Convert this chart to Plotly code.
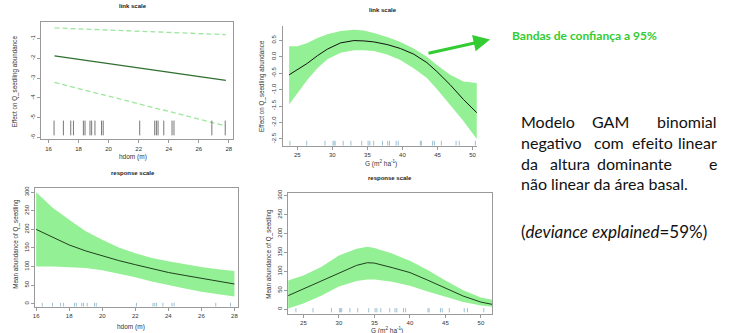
import plotly.graph_objects as go

W, H = 731, 333

# ---------------- data ----------------
# Top-left: link scale, linear effect of hdom
hdom_line_x = [16.4, 22.0, 27.8]
hdom_link_fit = [-1.87, -2.48, -3.12]
hdom_link_upper = [-0.46, -0.63, -0.80]
hdom_link_lower = [-3.22, -4.30, -5.42]
hdom_rug = [16.37, 16.99, 17.48, 17.66, 18.32, 18.43, 18.76, 18.87, 19.09, 19.53,
            19.64, 22.07, 23.07, 23.18, 23.29, 23.67, 24.22, 24.35, 26.87, 27.76]

# Top-right: link scale, smooth of G
G_link_x = [23.84, 25.03, 26.45, 27.87, 29.29, 31.18, 33.07, 34.49, 35.91, 37.81,
            39.70, 41.59, 43.49, 44.91, 46.80, 48.70, 50.60]
G_link_fit = [-0.55, -0.40, -0.20, 0.03, 0.23, 0.42, 0.49, 0.48, 0.45, 0.37,
              0.25, 0.08, -0.18, -0.45, -0.85, -1.30, -1.70]
G_link_upper = [0.32, 0.32, 0.42, 0.57, 0.68, 0.78, 0.82, 0.80, 0.72, 0.60,
                0.45, 0.25, 0.00, -0.25, -0.55, -0.75, -0.80]
G_link_lower = [-1.45, -1.10, -0.70, -0.35, -0.08, 0.12, 0.20, 0.20, 0.17, 0.07,
                -0.10, -0.35, -0.65, -0.98, -1.45, -1.95, -2.50]
G_rug = [23.95, 26.35, 28.95, 30.10, 30.25, 30.40, 31.55, 32.65, 34.20, 35.10,
         35.35, 35.90, 37.15, 37.90, 38.15, 39.10, 39.40, 42.55, 42.70, 44.30,
         44.55, 45.55, 47.65, 48.10, 50.40]

# Bottom-left: response scale, hdom
hdom_resp_x = [16, 17, 18, 19, 20, 21, 22, 23, 24, 25, 26, 27, 28]
hdom_resp_fit = [200, 178, 158, 142, 128, 116, 105, 94, 84, 76, 69, 60, 53]
hdom_resp_upper = [300, 258, 226, 195, 172, 151, 136, 123, 114, 106, 99, 93, 88]
hdom_resp_lower = [100, 100, 99, 96, 90, 81, 71, 60, 50, 41, 32, 25, 19]

# Bottom-right: response scale, G
G_resp_x = [22.85, 25.0, 27.5, 30.0, 32.5, 34.0, 35.0, 37.5, 40.0, 42.5, 45.0, 47.5, 50.0, 51.6]
G_resp_fit = [36, 54, 75, 97, 116, 123, 122, 110, 97, 77, 56, 35, 19, 13]
G_resp_upper = [76, 89, 112, 142, 160, 165, 162, 147, 128, 104, 76, 50, 31, 25]
G_resp_lower = [2, 15, 36, 60, 75, 79, 79, 73, 62, 47, 32, 19, 10, 7]

# tick labels
tl_x_hdom = [16, 18, 20, 22, 24, 26, 28]
tl_y_link_hdom = [-1, -2, -3, -4, -5, -6]
tl_y_link_hdom_txt = ["-1", "-2", "-3", "-4", "-5", "-6"]
tl_x_G = [25, 30, 35, 40, 45, 50]
tl_y_link_G = [0.5, 0.0, -0.5, -1.0, -1.5, -2.0, -2.5]
tl_y_link_G_txt = ["0.5", "0.0", "-0.5", "-1.0", "-1.5", "-2.0", "-2.5"]
tl_y_resp = [0, 50, 100, 150, 200, 250, 300]

# ---------------- style ----------------
BAND = "#94F094"
AXC = "#9a9a9a"
TXT = "#333333"
RF = "Liberation Sans, Arial, sans-serif"
GREEN = "#33CC33"


def px_x(v):
    return v / W


def px_y(v):
    return 1 - v / H


fig = go.Figure()


def band(x, lo, up, xa, ya):
    fig.add_trace(go.Scatter(x=list(x) + list(x)[::-1], y=list(up) + list(lo)[::-1],
                             fill="toself", fillcolor=BAND, line=dict(width=0),
                             mode="lines", xaxis=xa, yaxis=ya, hoverinfo="skip",
                             showlegend=False))


def line(x, y, xa, ya, color="black", width=1, dash=None):
    fig.add_trace(go.Scatter(x=x, y=y, mode="lines", xaxis=xa, yaxis=ya,
                             line=dict(color=color, width=width, dash=dash),
                             showlegend=False, hoverinfo="skip"))


# A: top-left
line(hdom_line_x, hdom_link_upper, "x", "y", color="#9ee69e", width=1.3, dash="5px,3px")
line(hdom_line_x, hdom_link_lower, "x", "y", color="#9ee69e", width=1.3, dash="5px,3px")
line(hdom_line_x, hdom_link_fit, "x", "y", color="#2f6f2f", width=1.3)
# B: top-right
band(G_link_x, G_link_lower, G_link_upper, "x2", "y2")
line(G_link_x, G_link_fit, "x2", "y2", color="#111111", width=1)
# C: bottom-left
band(hdom_resp_x, hdom_resp_lower, hdom_resp_upper, "x3", "y3")
line(hdom_resp_x, hdom_resp_fit, "x3", "y3", color="#1f3f1f", width=1)
# D: bottom-right
band(G_resp_x, G_resp_lower, G_resp_upper, "x4", "y4")
line(G_resp_x, G_resp_fit, "x4", "y4", color="#1f3f1f", width=1)


def axis(domain, rng, tickvals, ticktext=None, mirror=True, anchor=None, yaxis=False):
    d = dict(domain=domain, range=rng, tickvals=tickvals,
             ticktext=ticktext if ticktext is not None else [str(t) for t in tickvals],
             showline=True, linecolor=AXC, linewidth=1, mirror=mirror,
             ticks="outside", ticklen=3, tickcolor=AXC, tickwidth=1,
             showgrid=False, zeroline=False, fixedrange=True, anchor=anchor,
             tickfont=dict(family=RF, size=6, color=TXT))
    if yaxis:
        d["tickangle"] = -90
    return d


fig.update_layout(
    width=W, height=H, margin=dict(l=0, r=0, t=0, b=0),
    paper_bgcolor="white", plot_bgcolor="rgba(0,0,0,0)", showlegend=False,
    xaxis=axis([px_x(39.3), px_x(232.3)], [15.51, 28.3], tl_x_hdom, anchor="y"),
    yaxis=axis([px_y(137), px_y(18.3)], [-6.1, -0.165], tl_y_link_hdom, tl_y_link_hdom_txt,
               anchor="x", yaxis=True),
    xaxis2=axis([px_x(281.7), px_x(477)], [22.9, 50.64], tl_x_G, mirror=False, anchor="y2"),
    yaxis2=axis([px_y(143.3), px_y(22.7)], [-2.7, 0.92], tl_y_link_G, tl_y_link_G_txt,
                mirror=False, anchor="x2", yaxis=True),
    xaxis3=axis([px_x(33.3), px_x(236.7)], [15.94, 28.2], tl_x_hdom, anchor="y3"),
    yaxis3=axis([px_y(306.7), px_y(186)], [-9, 312], tl_y_resp, anchor="x3", yaxis=True),
    xaxis4=axis([px_x(287.3), px_x(492.3)], [22.85, 51.6], tl_x_G, anchor="y4"),
    yaxis4=axis([px_y(313.3), px_y(191.7)], [-11.2, 306], tl_y_resp, anchor="x4", yaxis=True),
)

# rug ticks (x from data, y in axis-domain fractions)
shapes = []
for v in hdom_rug:
    shapes.append(dict(type="line", xref="x", yref="y domain", x0=v, x1=v, y0=0.034, y1=0.16,
                       line=dict(color="#777777", width=1)))
for v in G_rug:
    shapes.append(dict(type="line", xref="x2", yref="y2 domain", x0=v, x1=v, y0=0.0, y1=0.04,
                       line=dict(color="#9cc0d4", width=1)))
for v in hdom_rug:
    shapes.append(dict(type="line", xref="x3", yref="y3 domain", x0=v, x1=v, y0=0.005, y1=0.035,
                       line=dict(color="#9cc0d4", width=1)))
for v in G_rug:
    shapes.append(dict(type="line", xref="x4", yref="y4 domain", x0=v, x1=v, y0=0.01, y1=0.045,
                       line=dict(color="#9cc0d4", width=1)))
fig.update_layout(shapes=shapes)

ann = []


def T(text, x, y, size=6, family=RF, color=TXT, angle=0, xanchor="center", bold=False):
    if bold:
        text = "<b>" + text + "</b>"
    ann.append(dict(text=text, x=px_x(x), y=px_y(y), xref="paper", yref="paper",
                    showarrow=False, xanchor=xanchor, yanchor="middle", textangle=angle,
                    font=dict(family=family, size=size, color=color)))


# panel titles
T("link scale", 132, 2, size=6, bold=True, color="#222")
T("link scale", 383, 6.5, size=6, bold=True, color="#222")
T("response scale", 131.7, 171, size=6, bold=True, color="#222")
T("response scale", 390, 176, size=6, bold=True, color="#222")
# axis titles
T("hdom (m)", 131.7, 155, size=6.5)
T("G (m<sup>2</sup> ha<sup>-1</sup>)", 381, 161.5, size=6.5)
T("hdom (m)", 130, 327, size=6.5)
T("G (m<sup>2</sup> ha<sup>-1</sup>)", 387, 330, size=6.5)
T("Effect on Q_seedling abundance", 13.3, 78, size=6.3, angle=-90)
T("Effect on Q_seedling abundance", 261.7, 83.3, size=6.3, angle=-90)
T("Mean abundance of Q_seedling", 13.3, 242.5, size=6.3, angle=-90)
T("Mean abundance of Q_seedling", 268.3, 252.5, size=6.3, angle=-90)

# right-hand text
BF = "Lato, Noto Sans, sans-serif"
BS = 16
BC = "#111111"
T("Bandas de confiança a 95%", 510, 31.5, size=12, family=BF, color=GREEN, bold=True, xanchor="left")

L = 519
R = 720
lines_words = [
    (119, ["Modelo", "GAM", "binomial"], [None, 611, None]),
    (140, ["negativo", "com", "efeito", "linear"], [None, 610, 653, None]),
    (161, ["da", "altura", "dominante", "e"], [None, 570, 635, None]),
]
for yy, words, centers in lines_words:
    for i, w in enumerate(words):
        if i == 0:
            T(w, L, yy, size=BS, family=BF, color=BC, xanchor="left")
        elif i == len(words) - 1:
            T(w, R, yy, size=BS, family=BF, color=BC, xanchor="right")
        else:
            T(w, centers[i], yy, size=BS, family=BF, color=BC)
T("não linear da área basal.", L, 182, size=16, family=BF, color=BC, xanchor="left")
T("(<i>deviance explained</i>=59%)", L, 230, size=17, family=BF, color=BC, xanchor="left")

# arrow
ann.append(dict(x=px_x(490), y=px_y(36), xref="paper", yref="paper", ax=-63, ay=14,
                axref="pixel", ayref="pixel", showarrow=True, arrowhead=2, arrowsize=1.1,
                arrowwidth=3, arrowcolor=GREEN, standoff=0, text=""))

fig.update_layout(annotations=ann)

js = ("document.body.style.margin='0';document.body.style.padding='0';"
      "var d=document.getElementsByClassName('plotly-graph-div')[0];"
      "d.style.position='absolute';d.style.left='0px';d.style.top='0px';")
fig.write_html("out.html", config={"displayModeBar": False}, post_script=js)
